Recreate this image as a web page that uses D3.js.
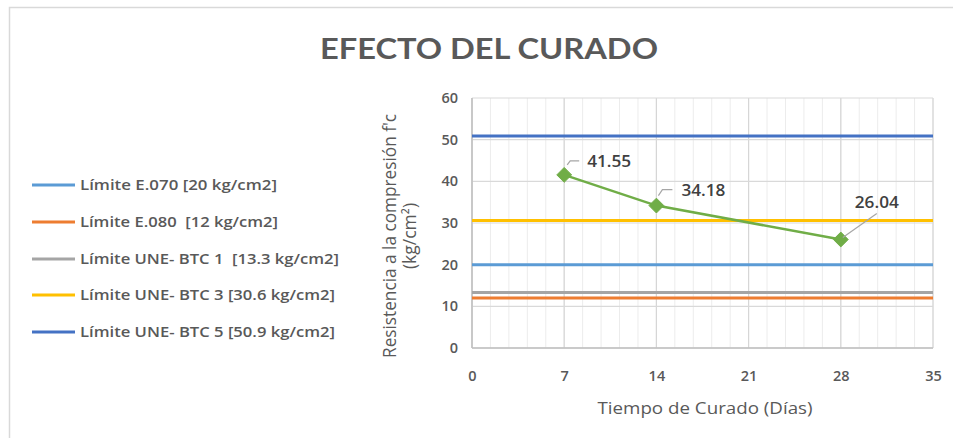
<!DOCTYPE html>
<html>
<head>
<meta charset="utf-8">
<script src="https://cdn.jsdelivr.net/npm/d3@7"></script>
<style>
  html, body { margin: 0; padding: 0; background: #fff; }
  svg { display: block; font-family: "Open Sans", Lato, sans-serif; }
  text { white-space: pre; }
</style>
</head>
<body>
<svg id="chart" width="953" height="438"></svg>
<script>
// ---- data ----
const title = "EFECTO DEL CURADO";
const days = [7, 14, 28];
const strength = [41.55, 34.18, 26.04];
const limitNames = [
  "Límite E.070 [20 kg/cm2]",
  "Límite E.080  [12 kg/cm2]",
  "Límite UNE- BTC 1  [13.3 kg/cm2]",
  "Límite UNE- BTC 3 [30.6 kg/cm2]",
  "Límite UNE- BTC 5 [50.9 kg/cm2]"
];
const limitValues = [20, 12, 13.3, 30.6, 50.9];
const limitColors = ["#5B9BD5", "#ED7D31", "#A5A5A5", "#FFC000", "#4472C4"];
const xTicks = [0, 7, 14, 21, 28, 35];
const yTicks = [0, 10, 20, 30, 40, 50, 60];
const xTitle = "Tiempo de Curado (Días)";
const yTitle1 = "Resistencia a la compresión f'c";
const yTitle2 = "(kg/cm²)";

// ---- layout ----
const svg = d3.select("#chart");
const textColor = "#595959";
const plot = { left: 472, right: 933, top: 98, bottom: 348 };
const x = d3.scaleLinear().domain([0, 35]).range([plot.left, plot.right]);
const y = d3.scaleLinear().domain([0, 60]).range([plot.bottom, plot.top]);

// outer border
svg.append("rect").attr("x", 9.5).attr("y", 7.5).attr("width", 1000).attr("height", 1000)
  .attr("fill", "none").attr("stroke", "#d9d9d9").attr("stroke-width", 1.5);

// title
svg.append("text").attr("x", 489).attr("y", 59).attr("text-anchor", "middle")
  .attr("font-family", "Lato, sans-serif")
  .attr("font-size", 29).attr("font-weight", 700).attr("fill", textColor)
  .attr("textLength", 338).attr("lengthAdjust", "spacingAndGlyphs")
  .text(title);

// minor vertical grid
const minorX = d3.range(0, 35.001, 1.4);
svg.append("g").selectAll("line").data(minorX).join("line")
  .attr("x1", d => x(d)).attr("x2", d => x(d))
  .attr("y1", plot.top).attr("y2", plot.bottom)
  .attr("stroke", "#ececec").attr("stroke-width", 1);

// major grid
svg.append("g").selectAll("line").data(xTicks).join("line")
  .attr("x1", d => x(d)).attr("x2", d => x(d))
  .attr("y1", plot.top).attr("y2", plot.bottom)
  .attr("stroke", "#d6d6d6").attr("stroke-width", 1.2);
svg.append("g").selectAll("line").data(yTicks).join("line")
  .attr("x1", plot.left).attr("x2", plot.right)
  .attr("y1", d => y(d)).attr("y2", d => y(d))
  .attr("stroke", "#d9d9d9").attr("stroke-width", 1.2);

// axes lines
svg.append("line").attr("x1", plot.left).attr("x2", plot.left)
  .attr("y1", plot.top).attr("y2", plot.bottom).attr("stroke", "#bfbfbf").attr("stroke-width", 1.5);
svg.append("line").attr("x1", plot.left).attr("x2", plot.right)
  .attr("y1", plot.bottom).attr("y2", plot.bottom).attr("stroke", "#bfbfbf").attr("stroke-width", 1.5);

// axis tick labels via d3 axes
const xAxis = d3.axisBottom(x).tickValues(xTicks).tickSize(0).tickPadding(0);
const gx = svg.append("g").attr("transform", `translate(0,${plot.bottom + 28})`).call(xAxis);
gx.select(".domain").remove();
gx.selectAll("text").attr("font-size", 14.5).attr("font-weight", 600).attr("fill", textColor)
  .attr("font-family", "'Open Sans', sans-serif").attr("dy", "0.35em").attr("y", 0);

const yAxis = d3.axisLeft(y).tickValues(yTicks).tickSize(0).tickPadding(0);
const gy = svg.append("g").attr("transform", `translate(${plot.left - 14},0)`).call(yAxis);
gy.select(".domain").remove();
gy.selectAll("text").attr("font-size", 14.5).attr("font-weight", 600).attr("fill", textColor)
  .attr("font-family", "'Open Sans', sans-serif");

// axis titles
svg.append("text").attr("x", 705).attr("y", 414).attr("text-anchor", "middle")
  .attr("font-size", 17).attr("fill", textColor)
  .attr("textLength", 215).attr("lengthAdjust", "spacingAndGlyphs").text(xTitle);
const yt = svg.append("g").attr("transform", "translate(0,236) rotate(-90)");
yt.append("text").attr("x", 0).attr("y", 396).attr("text-anchor", "middle")
  .attr("font-size", 17.5).attr("fill", textColor)
  .attr("textLength", 244).attr("lengthAdjust", "spacingAndGlyphs").text(yTitle1);
yt.append("text").attr("x", 0).attr("y", 416).attr("text-anchor", "middle")
  .attr("font-size", 17.5).attr("fill", textColor).text(yTitle2);

// limit lines
svg.append("g").selectAll("line").data(limitValues).join("line")
  .attr("x1", x(0)).attr("x2", x(35))
  .attr("y1", d => y(d)).attr("y2", d => y(d))
  .attr("stroke", (d, i) => limitColors[i]).attr("stroke-width", 3);

// series line
const pts = days.map((d, i) => [d, strength[i]]);
svg.append("path").datum(pts)
  .attr("d", d3.line().x(d => x(d[0])).y(d => y(d[1])))
  .attr("fill", "none").attr("stroke", "#70AD47").attr("stroke-width", 2.5);

// markers
svg.append("g").selectAll("path").data(pts).join("path")
  .attr("d", d3.symbol().type(d3.symbolDiamond2).size(140))
  .attr("transform", d => `translate(${x(d[0])},${y(d[1])})`)
  .attr("fill", "#70AD47").attr("stroke", "#70AD47").attr("stroke-width", 1);

// data labels with leader lines (offsets relative to each point)
const labelLayout = [
  { leader: [[3, -10], [6, -14], [15, -14]], dx: 23, dy: -8 },
  { leader: [[2, -10], [6, -16], [16, -16]], dx: 25, dy: -10 },
  { leader: [[2, -2], [36, -26]], dx: 14, dy: -32 }
];
pts.forEach((p, i) => {
  const px = x(p[0]), py = y(p[1]);
  const L = labelLayout[i];
  svg.append("path")
    .attr("d", d3.line()(L.leader.map(o => [px + o[0], py + o[1]])))
    .attr("fill", "none").attr("stroke", "#a6a6a6").attr("stroke-width", 1.2);
  svg.append("text").attr("x", px + L.dx).attr("y", py + L.dy)
    .attr("font-size", 16).attr("font-weight", 600).attr("fill", "#404040")
    .attr("textLength", 44).attr("lengthAdjust", "spacingAndGlyphs")
    .text(p[1].toFixed(2));
});

// legend
const legendRows = [185, 222, 259, 295, 332];
const legendWidths = [197, 198, 259, 255, 255];
const lg = svg.append("g").selectAll("g").data(limitNames).join("g")
  .attr("transform", (d, i) => `translate(0,${legendRows[i]})`);
lg.append("line").attr("x1", 32).attr("x2", 75).attr("y1", 0).attr("y2", 0)
  .attr("stroke", (d, i) => limitColors[i]).attr("stroke-width", 3);
lg.append("text").attr("x", 80).attr("y", 0).attr("dy", "0.35em")
  .attr("font-size", 15).attr("font-weight", 600).attr("fill", textColor)
  .attr("textLength", (d, i) => legendWidths[i]).attr("lengthAdjust", "spacingAndGlyphs")
  .text(d => d);
</script>
</body>
</html>
